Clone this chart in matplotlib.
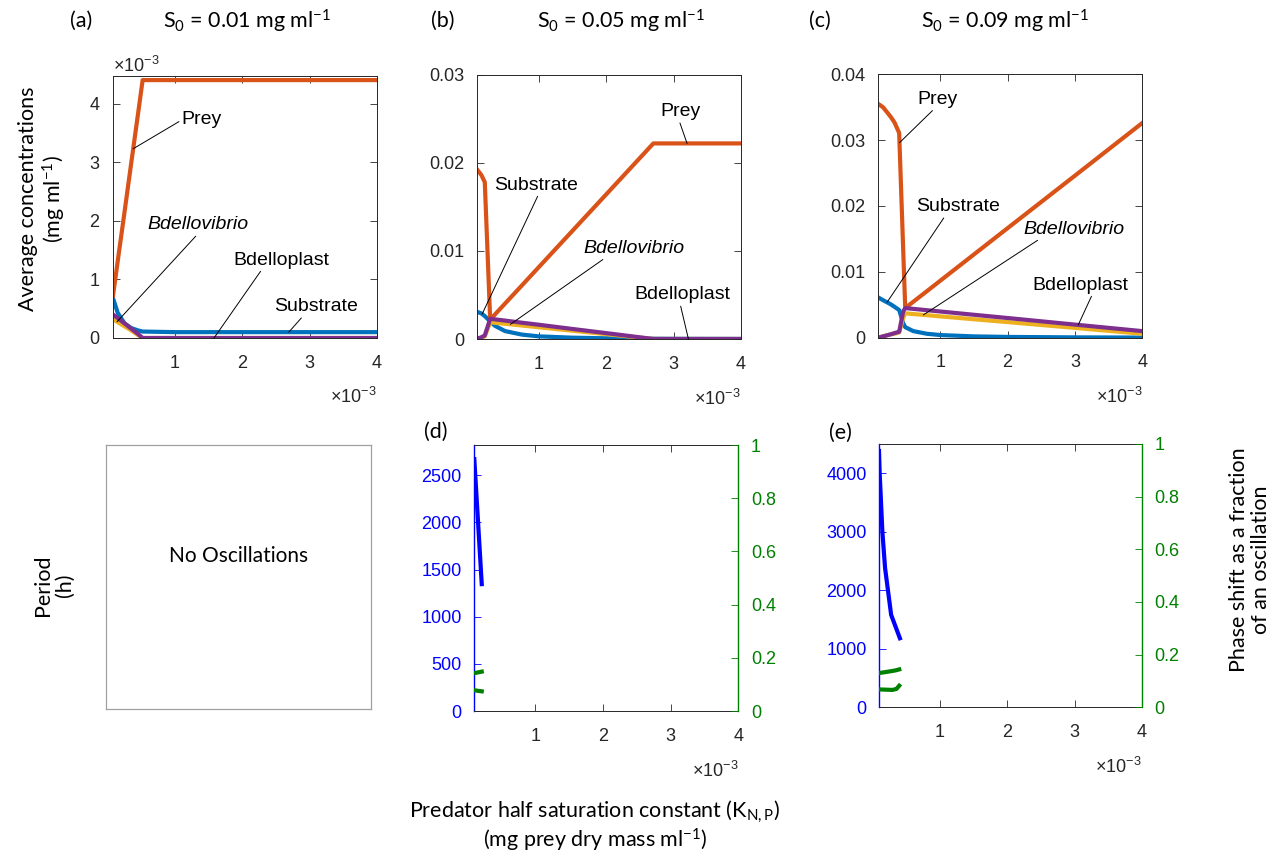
import numpy as np
import matplotlib
matplotlib.use("Agg")
import matplotlib.pyplot as plt
from matplotlib import ticker

plt.rcParams['font.family'] = ['Liberation Sans', 'DejaVu Sans']
plt.rcParams['mathtext.default'] = 'regular'

W, H = 1278, 861

# ---- data (x = K_N,P in mg/ml) ----
k_a = np.array([0.08, 0.15, 0.25, 0.35, 0.45, 0.52, 1, 2, 3, 4]) * 1e-3
sub_a = np.array([0.68, 0.43, 0.25, 0.17, 0.13, 0.11, 0.10, 0.10, 0.10, 0.10]) * 1e-3
prey_a = np.array([0.72, 1.31, 2.14, 2.98, 3.81, 4.40, 4.40, 4.40, 4.40, 4.40]) * 1e-3
bdv_a = np.array([0.32, 0.27, 0.20, 0.13, 0.05, 0.0, 0.0, 0.0, 0.0, 0.0]) * 1e-3
bpl_a = np.array([0.40, 0.34, 0.25, 0.16, 0.07, 0.0, 0.0, 0.0, 0.0, 0.0]) * 1e-3

k_b = np.array([0.08, 0.15, 0.2, 0.28, 0.35, 0.5, 0.75, 1, 1.5, 2, 2.7, 3, 4]) * 1e-3
sub_b = np.array([0.0031, 0.0029, 0.0026, 0.0020, 0.0015, 0.0009, 0.0005, 0.0003,
                  0.00015, 0.00008, 0.00003, 0.00002, 0.00001])
prey_b = np.array([0.0193, 0.0186, 0.0178, 0.0022, 0.00278, 0.00402, 0.00608, 0.00815,
                   0.01228, 0.01641, 0.0222, 0.0222, 0.0222])
bdv_b = np.array([0.0, 0.0001, 0.0003, 0.0019, 0.00184, 0.00173, 0.00153, 0.00133,
                  0.00094, 0.00055, 0.0, 0.0, 0.0])
bpl_b = np.array([0.0, 0.0002, 0.0004, 0.0023, 0.00223, 0.00209, 0.00185, 0.00162,
                  0.00114, 0.00067, 0.0, 0.0, 0.0])

k_c = np.array([0.08, 0.15, 0.26, 0.32, 0.39, 0.45, 0.48, 0.6, 0.8, 1, 1.5, 2, 3, 4]) * 1e-3
sub_c = np.array([0.0061, 0.0057, 0.0051, 0.0047, 0.0042, 0.0022, 0.0016, 0.0010, 0.0006,
                  0.0004, 0.0002, 0.00012, 0.00005, 0.00002])
prey_c = np.array([0.0355, 0.0350, 0.0336, 0.0327, 0.0311, 0.0133, 0.0045, 0.00546, 0.00705,
                   0.00865, 0.01264, 0.01663, 0.0246, 0.0326])
bdv_c = np.array([0.0, 0.0002, 0.0005, 0.0006, 0.0008, 0.0030, 0.0037, 0.00359, 0.00342,
                  0.00324, 0.0028, 0.00237, 0.00149, 0.0006])
bpl_c = np.array([0.0, 0.0002, 0.0005, 0.0007, 0.0009, 0.0040, 0.0045, 0.00438, 0.00418,
                  0.00398, 0.00348, 0.00299, 0.00199, 0.0010])

k_d = np.array([0.1, 0.21]) * 1e-3
period_d = np.array([2670, 1345])
k_d_ph = np.array([0.1, 0.15, 0.21]) * 1e-3
phase_d1 = np.array([0.142, 0.145, 0.148])
phase_d2 = np.array([0.078, 0.076, 0.074])

k_e = np.array([0.1, 0.11, 0.15, 0.19, 0.28, 0.41]) * 1e-3
period_e = np.array([4380, 4000, 3000, 2380, 1580, 1180])
k_e_ph = np.array([0.1, 0.2, 0.3, 0.36, 0.4]) * 1e-3
phase_e1 = np.array([0.130, 0.134, 0.138, 0.141, 0.144])
phase_e2 = np.array([0.068, 0.067, 0.066, 0.070, 0.082])

C_SUB, C_PREY, C_BDV, C_BPL = '#0072BD', '#D95319', '#EDB120', '#7E2F8E'
AX_COL = '#262626'
LABEL_FONT = ['Lato', 'DejaVu Sans']


def box(left, top, right, bottom):
    return [left / W, 1 - bottom / H, (right - left) / W, (bottom - top) / H]


def sci_x(ax):
    # tick labels 1..4 with a hand placed x10^-3 under the right end
    ax.set_xticks([1e-3, 2e-3, 3e-3, 4e-3])
    ax.xaxis.set_major_formatter(ticker.FuncFormatter(lambda v, p: '%g' % (v * 1e3)))
    ax.text(1.0, -0.225, r'$\times10^{-3}$', transform=ax.transAxes, ha='right',
            va='center', fontsize=13, color=AX_COL)


def top_panel(rect, k, sub, prey, bdv, bpl, ylim, yticks, notes, sci_y=False):
    ax = fig.add_axes(rect)
    ax.plot(k, sub, color=C_SUB, lw=3)
    ax.plot(k, prey, color=C_PREY, lw=3)
    ax.plot(k, bdv, color=C_BDV, lw=3)
    ax.plot(k, bpl, color=C_BPL, lw=3)
    ax.set_xlim(k[0], 4e-3)
    ax.set_ylim(*ylim)
    ax.set_yticks(yticks)
    sci_x(ax)
    if sci_y:
        fmt = ticker.ScalarFormatter(useMathText=True)
        fmt.set_powerlimits((-2, 2))
        ax.yaxis.set_major_formatter(fmt)
        ax.yaxis.get_offset_text().set_fontsize(13)
    else:
        ax.yaxis.set_major_formatter(ticker.FormatStrFormatter('%g'))
    ax.tick_params(direction='in', top=True, right=True, length=5, width=0.6,
                   labelsize=13, colors=AX_COL)
    ax.tick_params(axis='x', pad=12)
    ax.tick_params(axis='y', pad=9)
    for s in ax.spines.values():
        s.set_color(AX_COL)
        s.set_linewidth(0.7)
    series = {'Substrate': sub, 'Prey': prey, 'Bdellovibrio': bdv, 'Bdelloplast': bpl}
    for name, xt, tx, ty, rel in notes:
        yt = np.interp(xt, k, series[name])
        ax.annotate(name, xy=(xt, yt), xytext=(tx, ty), ha='center', va='center',
                    fontsize=14, style='italic' if name == 'Bdellovibrio' else 'normal',
                    annotation_clip=False,
                    arrowprops=dict(arrowstyle='-', lw=0.7, color='black',
                                    relpos=rel, shrinkA=0, shrinkB=0))
    return ax


def bottom_panel(rect, k, period, k_ph, ph1, ph2, ylim, yticks):
    ax = fig.add_axes(rect)
    ax.plot(k, period, color='#0000FF', lw=3)
    ax.set_xlim(0.1e-3, 4e-3)
    ax.set_ylim(*ylim)
    ax.set_yticks(yticks)
    sci_x(ax)
    ax.tick_params(direction='in', top=True, length=5, width=0.6, labelsize=13,
                   colors=AX_COL)
    ax.tick_params(axis='x', pad=12)
    ax.tick_params(axis='y', colors='#0000FF', pad=9)
    ax.spines['left'].set_color('#0000FF')
    ax.spines['right'].set_visible(False)
    for s in ('top', 'bottom'):
        ax.spines[s].set_color(AX_COL)
        ax.spines[s].set_linewidth(0.7)
    ax.spines['left'].set_linewidth(1.0)
    ax2 = ax.twinx()
    ax2.plot(k_ph, ph1, color='#008000', lw=3)
    ax2.plot(k_ph, ph2, color='#008000', lw=3)
    ax2.set_ylim(0, 1)
    ax2.set_yticks([0, 0.2, 0.4, 0.6, 0.8, 1])
    ax2.yaxis.set_major_formatter(ticker.FormatStrFormatter('%g'))
    ax2.tick_params(direction='in', length=5, width=0.6, labelsize=13,
                    colors='#008000', pad=9)
    for s in ('left', 'top', 'bottom'):
        ax2.spines[s].set_visible(False)
    ax2.spines['right'].set_color('#008000')
    ax2.spines['right'].set_linewidth(1.0)
    return ax


fig = plt.figure(figsize=(W / 100, H / 100), dpi=100)

top_panel(box(113, 76, 377, 338), k_a, sub_a, prey_a, bdv_a, bpl_a,
          (0, 4.47e-3), [0, 1e-3, 2e-3, 3e-3, 4e-3],
          [('Prey', 0.38e-3, 1.40e-3, 3.72e-3, (0, 0.5)),
           ('Bdellovibrio', 0.14e-3, 1.347e-3, 1.93e-3, (0.5, 0)),
           ('Bdelloplast', 1.58e-3, 2.585e-3, 1.33e-3, (0.3, 0)),
           ('Substrate', 2.69e-3, 3.10e-3, 0.534e-3, (0.35, 0))],
          sci_y=True)

top_panel(box(476.7, 74.7, 741, 339), k_b, sub_b, prey_b, bdv_b, bpl_b,
          (0, 0.03), [0, 0.01, 0.02, 0.03],
          [('Prey', 3.2e-3, 3.11e-3, 0.0258, (0.45, 0)),
           ('Substrate', 0.161e-3, 0.966e-3, 0.01748, (0.53, 0)),
           ('Bdellovibrio', 0.58e-3, 2.415e-3, 0.0103, (0.23, 0)),
           ('Bdelloplast', 3.22e-3, 3.124e-3, 0.005, (0.48, 0))])

top_panel(box(878.3, 74.3, 1142.2, 337.7), k_c, sub_c, prey_c, bdv_c, bpl_c,
          (0, 0.04), [0, 0.01, 0.02, 0.03, 0.04],
          [('Prey', 0.395e-3, 0.963e-3, 0.0362, (0.44, 0)),
           ('Substrate', 0.21e-3, 1.267e-3, 0.0199, (0.35, 0)),
           ('Bdellovibrio', 0.75e-3, 2.99e-3, 0.0165, (0.18, 0)),
           ('Bdelloplast', 3.05e-3, 3.08e-3, 0.0080, (0.63, 0))])

bottom_panel(box(474.3, 445, 738.3, 711), k_d, period_d, k_d_ph, phase_d1, phase_d2,
             (0, 2820), [0, 500, 1000, 1500, 2000, 2500])
bottom_panel(box(879, 444, 1142, 707.3), k_e, period_e, k_e_ph, phase_e1, phase_e2,
             (0, 4500), [0, 1000, 2000, 3000, 4000])

# "No Oscillations" box
axn = fig.add_axes(box(106, 445, 371, 709.3))
axn.set_xticks([])
axn.set_yticks([])
for s in axn.spines.values():
    s.set_color('#A0A0A0')
    s.set_linewidth(0.9)
axn.text(0.5, 0.58, 'No Oscillations', transform=axn.transAxes, ha='center',
         va='center', fontsize=15, family=LABEL_FONT)


def ftext(x, y, s, **kw):
    kw.setdefault('family', LABEL_FONT)
    kw.setdefault('fontsize', 15.5)
    fig.text(x / W, 1 - y / H, s, ha='center', va='center', **kw)


ftext(81, 21, '(a)')
ftext(443, 21, '(b)')
ftext(820, 21, '(c)')
ftext(436, 432, '(d)')
ftext(840, 433, '(e)')
ftext(247, 21, r'$\mathregular{S_0}$ = 0.01 mg ml$^{-1}$')
ftext(621, 21, r'$\mathregular{S_0}$ = 0.05 mg ml$^{-1}$')
ftext(1005, 21, r'$\mathregular{S_0}$ = 0.09 mg ml$^{-1}$')
ftext(43, 199, 'Average concentrations\n(mg ml$^{-1}$)', rotation=90, linespacing=1.1)
ftext(54, 585, 'Period\n(h)', rotation=90, linespacing=1.1)
ftext(1250, 560, 'Phase shift as a fraction\nof an oscillation', rotation=90,
      linespacing=1.1)
ftext(595, 826, 'Predator half saturation constant (K$_{N,P}$)\n(mg prey dry mass ml$^{-1}$)',
      linespacing=1.1)

fig.savefig('out.png', dpi=100)
